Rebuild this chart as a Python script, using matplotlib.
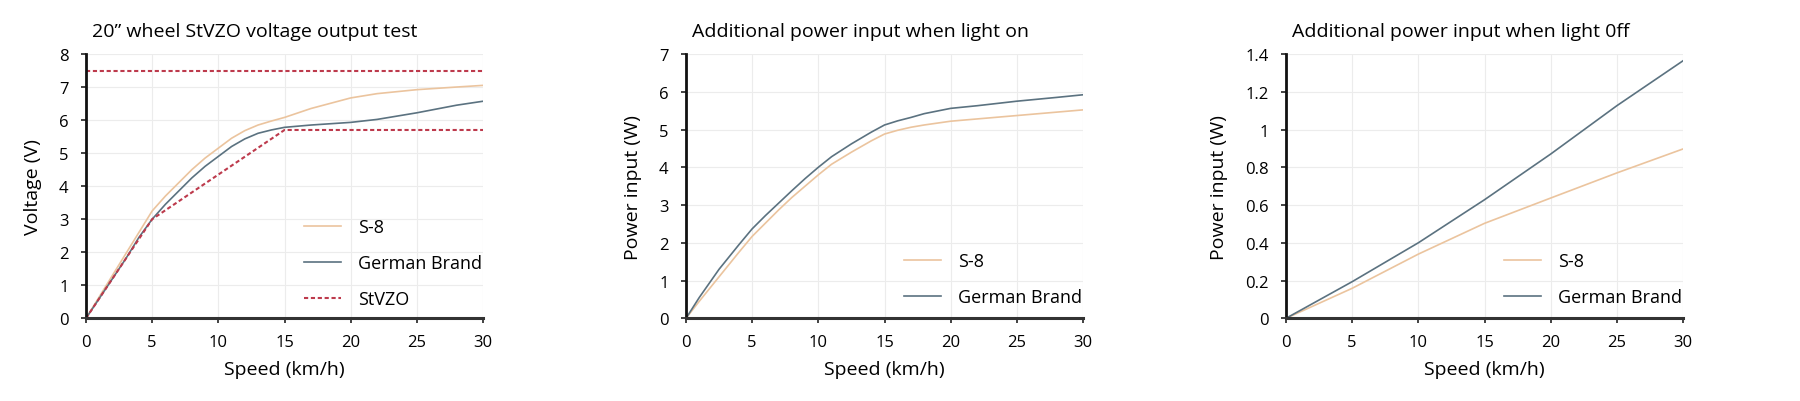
import matplotlib.pyplot as plt

plt.rcParams['font.family'] = ['Open Sans', 'DejaVu Sans']

# panel 1: voltage output
speed_v_s8 = [0, 1, 2, 3, 4, 5, 6, 7, 8, 9, 10, 11, 12, 13, 14, 15, 17, 20, 22, 25, 28, 30]
volt_s8 = [0, 0.65, 1.3, 1.95, 2.6, 3.25, 3.7, 4.1, 4.5, 4.85, 5.15, 5.45, 5.68, 5.85, 5.97, 6.08,
           6.35, 6.67, 6.8, 6.92, 7.0, 7.05]
speed_v_gb = [0, 1, 2, 3, 4, 5, 6, 7, 8, 9, 10, 11, 12, 13, 14, 15, 17, 20, 22, 25, 28, 30]
volt_gb = [0, 0.6, 1.2, 1.8, 2.45, 3.0, 3.45, 3.85, 4.25, 4.6, 4.9, 5.2, 5.43, 5.6, 5.7, 5.78,
           5.85, 5.93, 6.02, 6.22, 6.45, 6.57]
stvzo_low_x = [0, 5, 15, 30]
stvzo_low_y = [0, 3.0, 5.7, 5.7]
stvzo_max_x = [0, 30]
stvzo_max_y = [7.5, 7.5]

# panel 2: power input, light on
speed_on = [0, 1, 2.5, 4, 5, 6, 7, 8, 9, 10, 11, 12.5, 14, 15, 16, 17, 18, 20, 22, 25, 28, 30]
on_s8 = [0, 0.45, 1.1, 1.75, 2.17, 2.52, 2.87, 3.2, 3.5, 3.8, 4.08, 4.4, 4.7, 4.88, 4.98, 5.06,
         5.12, 5.22, 5.28, 5.37, 5.46, 5.52]
on_gb = [0, 0.55, 1.3, 1.95, 2.37, 2.72, 3.05, 3.38, 3.7, 4.0, 4.28, 4.62, 4.93, 5.12, 5.23, 5.32,
         5.42, 5.56, 5.63, 5.75, 5.85, 5.92]

# panel 3: power input, light off
speed_off = [0, 5, 10, 15, 20, 25, 30]
off_s8 = [0, 0.159, 0.34, 0.503, 0.637, 0.77, 0.897]
off_gb = [0, 0.194, 0.40, 0.628, 0.87, 1.126, 1.364]

titles = ['20\u201d wheel StVZO voltage output test',
          'Additional power input when light on',
          'Additional power input when light 0ff']
ylabels = ['Voltage (V)', 'Power input (W)', 'Power input (W)']
legend_y = [0.038, 0.045, 0.045]

c_s8 = '#ebc49e'
c_gb = '#5b7280'
c_red = '#bd3a4c'

fig = plt.figure(figsize=(18, 4.02), dpi=100)
lefts = [86, 686, 1286]
axes = []
for l in lefts:
    axes.append(fig.add_axes([l / 1800, 0.2057, 397 / 1800, 0.6575]))

ax1, ax2, ax3 = axes
dash = (0, (2.0, 1.3))
ax1.plot(speed_v_s8, volt_s8, color=c_s8, lw=1.2, label='S-8')
ax1.plot(speed_v_gb, volt_gb, color=c_gb, lw=1.2, label='German Brand')
ax1.plot(stvzo_low_x, stvzo_low_y, color=c_red, lw=1.5, ls=dash, label='StVZO')
ax1.plot(stvzo_max_x, stvzo_max_y, color=c_red, lw=1.5, ls=dash)
ax1.set_ylim(0, 8)
ax1.set_yticks(range(0, 9))

ax2.plot(speed_on, on_s8, color=c_s8, lw=1.2, label='S-8')
ax2.plot(speed_on, on_gb, color=c_gb, lw=1.2, label='German Brand')
ax2.set_ylim(0, 7)
ax2.set_yticks(range(0, 8))

ax3.plot(speed_off, off_s8, color=c_s8, lw=1.2, label='S-8')
ax3.plot(speed_off, off_gb, color=c_gb, lw=1.2, label='German Brand')
ax3.set_ylim(0, 1.4)
ax3.set_yticks([0, 0.2, 0.4, 0.6, 0.8, 1.0, 1.2, 1.4])
ax3.set_yticklabels(['0', '0.2', '0.4', '0.6', '0.8', '1', '1.2', '1.4'])

for ax, t, yl, ly in zip(axes, titles, ylabels, legend_y):
    ax.set_xlim(0, 30)
    ax.set_xticks([0, 5, 10, 15, 20, 25, 30])
    ax.set_title(t, loc='left', fontsize=14, pad=13, x=0.015)
    ax.set_xlabel('Speed (km/h)', fontsize=14, labelpad=7)
    ax.set_ylabel(yl, fontsize=14, labelpad=12)
    ax.tick_params(labelsize=12, length=3.5, width=1.2, color='#222222')
    ax.tick_params(axis='x', pad=8)
    ax.tick_params(axis='y', pad=9)
    ax.grid(True, color='#ececec', lw=0.8)
    ax.set_axisbelow(True)
    for s in ['top', 'right']:
        ax.spines[s].set_visible(False)
    ax.spines['left'].set_linewidth(2)
    ax.spines['bottom'].set_linewidth(2.2)
    ax.spines['left'].set_color('#111111')
    ax.spines['bottom'].set_color('#333333')
    ax.legend(loc='lower left', frameon=False, fontsize=13, handlelength=2.05,
              handletextpad=0.95, labelspacing=1.0, borderaxespad=0, borderpad=0,
              bbox_to_anchor=(0.549, ly))

fig.savefig('out.png', dpi=100)
